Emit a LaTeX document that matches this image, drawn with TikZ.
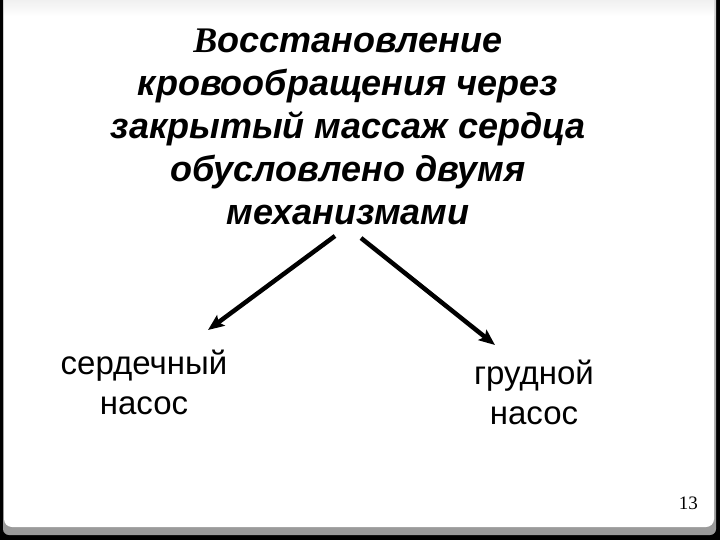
\documentclass[tikz,border=0pt]{standalone}
\usepackage{fontspec}
\setmainfont{Liberation Sans}
\newfontfamily\serifrm{Liberation Serif}
\usetikzlibrary{positioning,arrows.meta}

\begin{document}
\begin{tikzpicture}[
    x=1pt,y=-1pt,
    headline/.style={
      align=center,inner sep=0pt,
      font=\fontsize{36}{43}\selectfont\bfseries\itshape
    },
    pumplabel/.style={
      align=center,inner sep=0pt,anchor=north,
      font=\fontsize{33}{40}\selectfont
    },
    pumparrow/.style={
      line width=4.5pt,
      -{Stealth[length=16pt,width=13pt,inset=3pt]}
    },
    pagenum/.style={
      inner sep=0pt,anchor=base east,
      font=\serifrm\fontsize{19}{19}\selectfont
    }]
      \useasboundingbox (0,0) rectangle (720,540);

      % slide frame
      \fill[black] (0,0) rectangle (720,540);
      \shade[top color=gray!35,bottom color=gray!80,rounded corners=6pt] (3,-10) rectangle (716,535);
      \fill[white,rounded corners=8pt] (4,-10) rectangle (714,527);
      \shade[top color=gray!12,bottom color=white] (4,0) rectangle (714,16);

      \node[headline,anchor=north] (title) at (348,29)
        {{\serifrm В}осстановление\\кровообращения через\\закрытый массаж сердца\\обусловлено двумя\\механизмами};

      \node[pumplabel] (heart) at (144,350) {сердечный\\насос};
      \node[pumplabel] (chest) at (534,360) {грудной\\насос};

      \coordinate (lstart) at (335,236);
      \coordinate (rstart) at (361,238);
      \coordinate (lend) at (208,330);
      \coordinate (rend) at (495,345);

      \draw[pumparrow] (lstart) -- (lend);
      \draw[pumparrow] (rstart) -- (rend);

      \node[pagenum] (page) at (698,509) {13};
  \end{tikzpicture}
\end{document}
